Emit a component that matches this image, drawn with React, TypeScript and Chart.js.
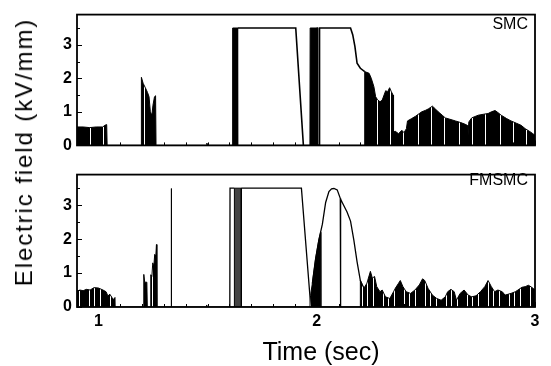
import React, { useEffect, useRef } from 'react';
import { Chart, registerables } from 'chart.js';

Chart.register(...registerables);

// ---------- data (time in s, electric field in kV/mm) ----------
const xTickValues = [1, 2, 3];
const yTickValues = [0, 1, 2, 3];
const panelNames = ['SMC', 'FMSMC'];
const xTitle = 'Time (sec)';
const yTitle = 'Electric field (kV/mm)';

// SMC: chattering parts (drawn filled under their envelope)
const smcChatter: [number, number][] = [
  [0.902, 0.55], [0.903, 0.55], [0.93, 0.55], [0.96, 0.53], [0.99, 0.55], [1.02, 0.55], [1.03, 0.6], [1.038, 0.62], [1.04, 0],
  [1.196, 0], [1.197, 2.03], [1.205, 1.85], [1.215, 1.72], [1.225, 1.58], [1.232, 1.45], [1.238, 1.0], [1.245, 0.9], [1.25, 1.2], [1.257, 1.45], [1.262, 1.48], [1.264, 0],
  [1.495, 0], [1.497, 0.07], [1.5, 0],
  [1.614, 0], [1.615, 3.5], [1.637, 3.5], [1.638, 0],
  [1.969, 0], [1.97, 3.5], [1.998, 3.5], [1.999, 0],
  [2.219, 0], [2.22, 2.2], [2.24, 2.15], [2.25, 2.0], [2.262, 1.75], [2.27, 1.45], [2.279, 1.36], [2.29, 1.3], [2.3, 1.35],
  [2.316, 1.63], [2.325, 1.6], [2.334, 1.72], [2.342, 1.6], [2.35, 1.5], [2.352, 0.4], [2.36, 0.42], [2.375, 0.35], [2.39, 0.45],
  [2.4, 0.38], [2.411, 0.5], [2.416, 0.73], [2.435, 0.8], [2.453, 0.87], [2.47, 0.95], [2.481, 1.0], [2.5, 1.05], [2.512, 1.09],
  [2.53, 1.17], [2.545, 1.08], [2.557, 1.0], [2.575, 0.9], [2.589, 0.82], [2.61, 0.78], [2.635, 0.73], [2.66, 0.68], [2.68, 0.63],
  [2.689, 0.6], [2.692, 0.2], [2.697, 0.7], [2.71, 0.82], [2.74, 0.9], [2.765, 0.93], [2.785, 0.95], [2.8, 1.0], [2.817, 1.04],
  [2.83, 0.98], [2.845, 0.9], [2.87, 0.8], [2.89, 0.73], [2.915, 0.66], [2.936, 0.6], [2.955, 0.5], [2.977, 0.41], [2.99, 0.35], [3.0, 0.3],
];

// SMC: smooth (non-chattering) parts of the trace
const smcTrace: [number, number | null][] = [
  [1.637, 3.5], [1.904, 3.5], [1.939, 0], [1.95, null],
  [1.998, 3.5], [2.003, 3.5], [2.004, 0], [2.012, 0], [2.013, 3.5], [2.155, 3.5], [2.165, 3.3], [2.175, 2.95],
  [2.185, 2.45], [2.2, 2.3], [2.22, 2.2],
];

// FMSMC: chattering parts
const fmsmcChatter: [number, number][] = [
  [0.902, 0.45], [0.915, 0.5], [0.93, 0.48], [0.945, 0.52], [0.962, 0.5], [0.98, 0.57], [1.0, 0.56], [1.021, 0.5], [1.035, 0.45],
  [1.044, 0.32], [1.052, 0.38], [1.062, 0.28], [1.07, 0.22], [1.076, 0.28], [1.077, 0],
  [1.207, 0], [1.208, 0.96], [1.212, 0.73], [1.222, 0.73], [1.224, 0],
  [1.238, 0], [1.24, 0.95], [1.245, 0.9], [1.249, 1.3], [1.254, 1.2], [1.258, 1.55], [1.263, 1.5], [1.266, 1.84], [1.268, 0],
  [1.333, 0], [1.334, 3.49], [1.335, 0],
  [1.494, 0], [1.496, 0.06], [1.498, 0],
  [1.969, 0], [1.972, 0.35], [1.98, 0.69], [1.995, 1.42], [2.01, 1.98], [2.018, 2.2], [2.019, 0],
  [2.199, 0], [2.2, 0.78], [2.216, 0.55], [2.23, 0.7], [2.246, 1.05], [2.255, 0.85], [2.265, 0.9], [2.275, 0.6], [2.29, 0.45],
  [2.3, 0.5], [2.315, 0.3], [2.335, 0.25], [2.352, 0.45], [2.36, 0.55], [2.375, 0.7], [2.383, 0.78], [2.395, 0.6], [2.41, 0.45],
  [2.43, 0.4], [2.45, 0.5], [2.47, 0.65], [2.485, 0.83], [2.495, 0.78], [2.51, 0.55], [2.53, 0.35], [2.55, 0.25], [2.57, 0.2],
  [2.589, 0.3], [2.6, 0.45], [2.615, 0.52], [2.63, 0.45], [2.64, 0.2], [2.657, 0.4], [2.675, 0.5], [2.694, 0.35], [2.71, 0.3],
  [2.73, 0.33], [2.75, 0.45], [2.77, 0.6], [2.785, 0.78], [2.8, 0.6], [2.815, 0.45], [2.83, 0.5], [2.85, 0.45], [2.863, 0.35],
  [2.89, 0.4], [2.91, 0.45], [2.922, 0.5], [2.94, 0.58], [2.955, 0.6], [2.97, 0.64], [2.985, 0.58], [3.0, 0.5],
];

// FMSMC: saturated chatter band
const fmsmcBand: [number, number][] = [
  [1.622, 0], [1.623, 3.5], [1.654, 3.5], [1.655, 0],
];

// FMSMC: smooth parts of the trace
const fmsmcTrace: [number, number | null][] = [
  [1.602, 0], [1.603, 3.5], [1.623, 3.5], [1.63, null],
  [1.654, 3.5], [1.93, 3.5], [1.973, 0], [1.975, null],
  [1.98, 0.69], [1.995, 1.42], [2.01, 1.98], [2.026, 2.44], [2.041, 3.08], [2.056, 3.4], [2.068, 3.48], [2.079, 3.49],
  [2.094, 3.45], [2.108, 3.2], [2.109, 0], [2.11, 3.18], [2.117, 3.08], [2.139, 2.8], [2.155, 2.53], [2.17, 1.98],
  [2.185, 1.33], [2.2, 0.78], [2.216, 0.55],
];

const X_MIN = 0.902;
const X_MAX = 3;
const Y_MIN = 0;
const Y_MAX = 3.9;

// ---------- helpers ----------
const FONT = '"Liberation Sans", Arial, Helvetica, sans-serif';

function toPoints(arr: [number, number | null][]) {
  return arr.map(([x, y]) => ({ x, y }));
}

// vertical hatch texture used for the chattering signal ('1' = dark column)
function hatch(ctx: CanvasRenderingContext2D, spec: string): CanvasPattern | string {
  const c = document.createElement('canvas');
  c.width = spec.length;
  c.height = 4;
  const g = c.getContext('2d');
  if (!g) return '#222';
  g.fillStyle = '#ffffff';
  g.fillRect(0, 0, c.width, c.height);
  g.fillStyle = '#000000';
  for (let i = 0; i < spec.length; i++) if (spec[i] === '1') g.fillRect(i, 0, 1, c.height);
  return ctx.createPattern(c, 'repeat') || '#222';
}

const framePlugin = {
  id: 'frame',
  afterDatasetsDraw(chart: any) {
    const { ctx, chartArea: a, scales } = chart;
    const xs = scales.x;
    const ys = scales.y;
    ctx.save();
    ctx.strokeStyle = '#000';
    ctx.lineWidth = 1.8;
    ctx.strokeRect(a.left, a.top, a.right - a.left, a.bottom - a.top);
    ctx.lineWidth = 1;
    ctx.beginPath();
    for (let k = 0; k <= 7; k++) {
      const v = k * 0.5;
      const py = Math.round(ys.getPixelForValue(v)) + 0.5;
      const len = k % 2 === 0 ? 5 : 3;
      ctx.moveTo(a.left, py);
      ctx.lineTo(a.left + len, py);
    }
    for (let k = 10; k <= 30; k++) {
      const v = k / 10;
      const px = Math.round(xs.getPixelForValue(v)) + 0.5;
      const len = k % 10 === 0 ? 5 : 3;
      ctx.moveTo(px, a.bottom);
      ctx.lineTo(px, a.bottom - len);
    }
    ctx.stroke();
    ctx.restore();
  },
};

function makeOptions(showX: boolean, padTop: number, xHeight: number) {
  return {
    animation: false,
    responsive: false,
    maintainAspectRatio: false,
    events: [],
    layout: { padding: { top: padTop, right: 16, bottom: 0, left: 0 } },
    plugins: { legend: { display: false }, tooltip: { enabled: false }, title: { display: false } },
    elements: { point: { radius: 0 }, line: { tension: 0 } },
    scales: {
      x: {
        type: 'linear',
        min: X_MIN,
        max: X_MAX,
        afterBuildTicks: (s: any) => { s.ticks = xTickValues.map((v) => ({ value: v })); },
        afterFit: (s: any) => { s.height = xHeight; },
        grid: { display: false, drawTicks: false },
        border: { display: false },
        ticks: {
          display: showX,
          color: '#000',
          padding: 5,
          maxRotation: 0,
          font: { family: FONT, size: 16, weight: 'bold' },
        },
      },
      y: {
        type: 'linear',
        min: Y_MIN,
        max: Y_MAX,
        afterBuildTicks: (s: any) => { s.ticks = yTickValues.map((v) => ({ value: v })); },
        afterFit: (s: any) => { s.width = 77; },
        grid: { display: false, drawTicks: false },
        border: { display: false },
        ticks: {
          color: '#000',
          padding: 5,
          font: { family: FONT, size: 16, weight: 'bold' },
        },
      },
    },
  } as any;
}

export default function App() {
  const topRef = useRef<HTMLCanvasElement>(null);
  const botRef = useRef<HTMLCanvasElement>(null);

  useEffect(() => {
    const tctx = topRef.current!.getContext('2d')!;
    const bctx = botRef.current!.getContext('2d')!;

    const top = new Chart(tctx, {
      type: 'line',
      data: {
        datasets: [
          {
            data: toPoints(smcChatter),
            fill: 'origin',
            backgroundColor: hatch(tctx, '11111111011111111111101111111111110111111'),
            borderColor: '#000',
            borderWidth: 1,
          },
          {
            data: toPoints(smcTrace),
            fill: false,
            borderColor: '#000',
            borderWidth: 1.6,
            spanGaps: false,
          },
        ],
      },
      options: makeOptions(false, 7, 10),
      plugins: [framePlugin],
    } as any);

    const bot = new Chart(bctx, {
      type: 'line',
      data: {
        datasets: [
          {
            data: toPoints(fmsmcChatter),
            fill: 'origin',
            backgroundColor: hatch(bctx, '111110111101111101111'),
            borderColor: '#000',
            borderWidth: 1,
          },
          {
            data: toPoints(fmsmcBand),
            fill: 'origin',
            backgroundColor: '#444',
            borderColor: '#000',
            borderWidth: 1,
          },
          {
            data: toPoints(fmsmcTrace),
            fill: false,
            borderColor: '#000',
            borderWidth: 1.3,
            spanGaps: false,
          },
        ],
      },
      options: makeOptions(true, 5, 59),
      plugins: [framePlugin],
    } as any);

    return () => {
      top.destroy();
      bot.destroy();
    };
  }, []);

  const labelStyle: React.CSSProperties = {
    position: 'absolute',
    fontFamily: FONT,
    fontSize: '16px',
    lineHeight: '16px',
    color: '#000',
    whiteSpace: 'nowrap',
    right: '23px',
  };

  return (
    <div style={{ position: 'fixed', left: 0, top: 0, width: 551, height: 366, background: '#fff', overflow: 'hidden' }}>
      <canvas ref={topRef} width={551} height={160} style={{ position: 'absolute', left: 0, top: 0, width: 551, height: 160 }} />
      <canvas ref={botRef} width={551} height={206} style={{ position: 'absolute', left: 0, top: 160, width: 551, height: 206 }} />
      <div style={{ ...labelStyle, top: '16px' }}>{panelNames[0]}</div>
      <div style={{ ...labelStyle, top: '172px' }}>{panelNames[1]}</div>
      <div
        style={{
          position: 'absolute',
          left: 321,
          top: 339,
          transform: 'translateX(-50%)',
          fontFamily: FONT,
          fontSize: '25px',
          lineHeight: '25px',
          whiteSpace: 'nowrap',
          color: '#000',
        }}
      >
        {xTitle}
      </div>
      <div
        style={{
          position: 'absolute',
          left: 24,
          top: 152,
          transform: 'translate(-50%, -50%) rotate(-90deg)',
          fontFamily: FONT,
          fontSize: '24px',
          letterSpacing: '1.9px',
          whiteSpace: 'nowrap',
          color: '#000',
        }}
      >
        {yTitle}
      </div>
    </div>
  );
}
